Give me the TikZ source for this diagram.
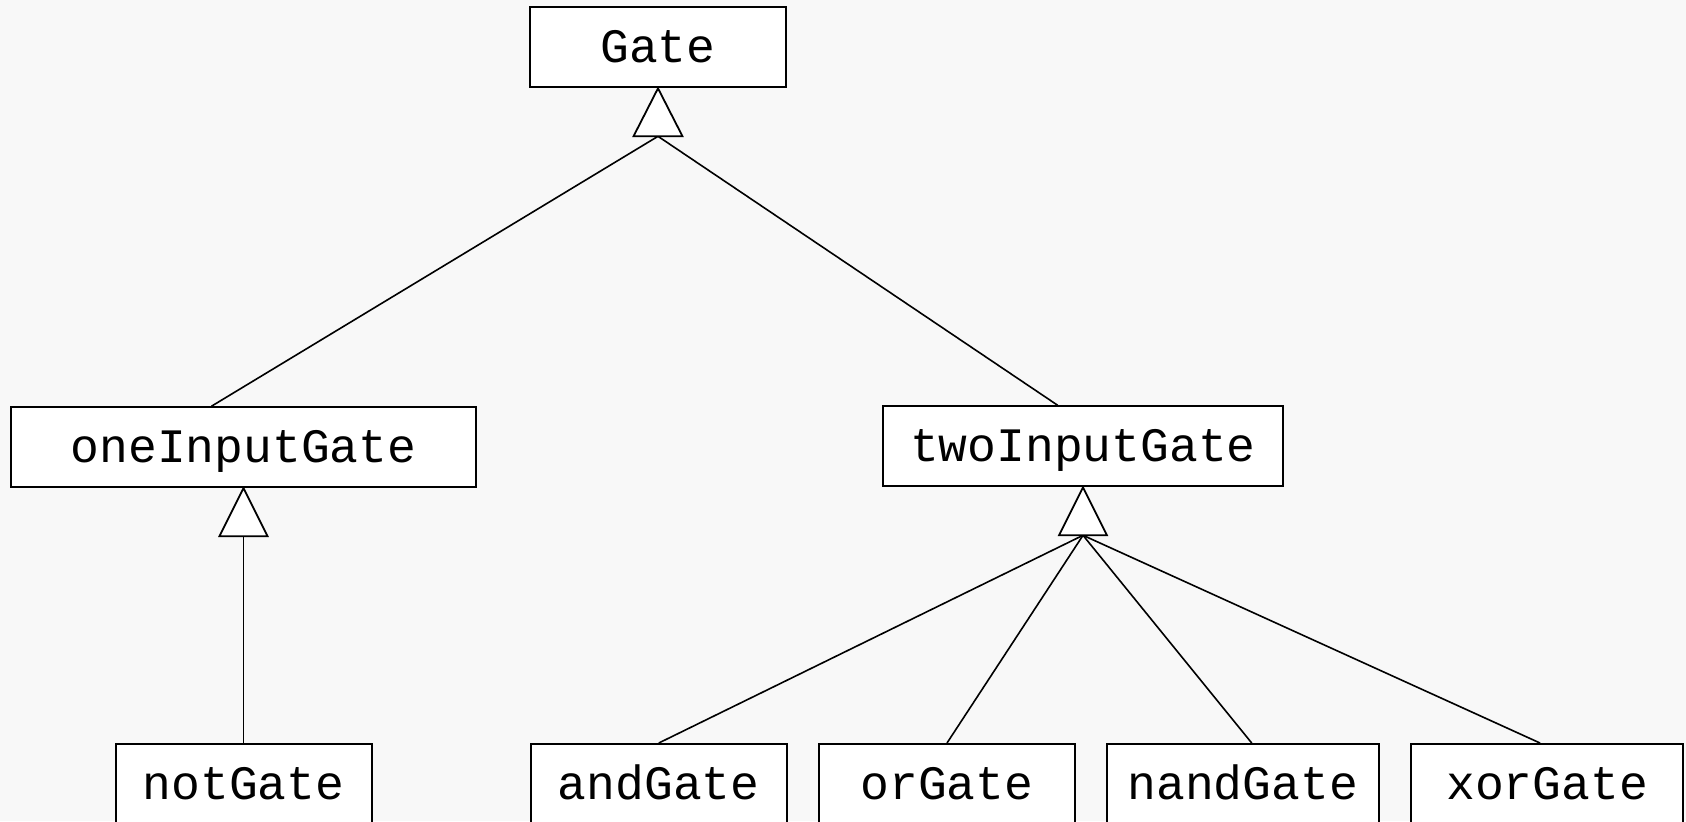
\documentclass[tikz,border=0pt]{standalone}
\usepackage{fontspec}
\setmonofont{Liberation Mono}
\definecolor{bgcol}{HTML}{F8F8F8}
\begin{document}
\begin{tikzpicture}[x=0.5pt,y=-0.5pt,
  cls/.style={draw, line width=1pt, fill=white, inner sep=0pt, minimum height=40pt,
    font=\ttfamily\fontsize{24}{28}\selectfont, text height=16pt, text depth=0.6pt},
  conn/.style={line width=0.8pt},
  tri/.style={draw, line width=0.9pt, fill=white, line join=miter}]
\useasboundingbox (0,0) rectangle (1686,821);
\fill[bgcol] (0,0) rectangle (1686,821);
\clip (0,0) rectangle (1686,821);
% classes
\node[cls, minimum width=128.3pt] (gate) at (658,47.3) {Gate};
\node[cls, minimum width=232.2pt] (one) at (243.5,447.2) {oneInputGate};
\node[cls, minimum width=200.3pt] (two) at (1083,446.3) {twoInputGate};
\node[cls, minimum width=128pt] (not) at (243.5,784) {notGate};
\node[cls, minimum width=127.9pt] (and) at (658.8,784) {andGate};
\node[cls, minimum width=128pt] (or) at (947,784) {orGate};
\node[cls, minimum width=136pt] (nand) at (1242.7,784) {nandGate};
\node[cls, minimum width=136.2pt] (xor) at (1547,784) {xorGate};
% generalization triangles
\coordinate (tg) at ([yshift=-24pt]gate.south);
\coordinate (t1) at ([yshift=-24pt]one.south);
\coordinate (t2) at ([yshift=-24pt]two.south);
% connectors
\draw[conn] (tg) -- ([xshift=-16pt]one.north);
\draw[conn] (tg) -- ([xshift=-12.65pt]two.north);
\draw[conn] (t1) -- (not.north);
\draw[conn] (t2) -- (and.north);
\draw[conn] (t2) -- (or.north);
\draw[conn] (t2) -- ([xshift=4.5pt]nand.north);
\draw[conn] (t2) -- ([xshift=-3.5pt]xor.north);
\draw[tri] (gate.south) -- ++(24.5,48) -- ++(-49,0) -- cycle;
\draw[tri] (one.south) -- ++(24,48) -- ++(-48,0) -- cycle;
\draw[tri] (two.south) -- ++(24,48) -- ++(-48,0) -- cycle;
\end{tikzpicture}
\end{document}
